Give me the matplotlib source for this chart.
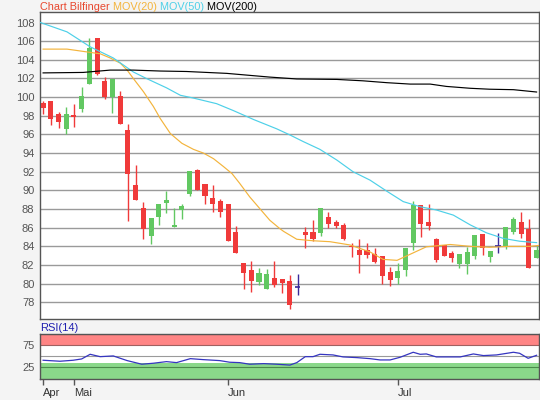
import numpy as np
import matplotlib
matplotlib.use("Agg")
import matplotlib.pyplot as plt

plt.rcParams['font.family'] = ['Liberation Sans', 'DejaVu Sans']

# daily candles, index 0 = first trading day shown
opens = [99.41, 99.59, 98.20, 96.55, 98.05, 98.70, 101.38, 106.32, 101.74, 100.06,
         100.13, 96.48, 90.58, 88.07, 85.14, 87.11, 88.61, 86.07, 87.93, 89.65,
         92.15, 90.68, 89.15, 88.86, 88.54, 85.50, 82.17, 81.45, 80.20, 79.48,
         80.59, 80.49, 80.27, 79.63, 85.57, 85.57, 85.46, 87.14, 86.60, 86.28,
         84.03, 83.60, 83.60, 83.13, 82.99, 81.20, 80.56, 81.45, 84.31, 88.43,
         86.60, 84.75, 84.14, 83.24, 82.06, 82.06, 82.99, 85.28, 82.88, 84.03,
         84.03, 85.50, 86.60, 85.85, 82.70]
highs = [99.55, 99.60, 98.41, 98.98, 99.23, 101.06, 106.32, 106.32, 102.20, 101.99,
         100.67, 97.09, 92.72, 88.75, 87.00, 88.54, 89.93, 88.07, 88.54, 92.04,
         92.26, 90.70, 90.58, 89.04, 88.54, 86.14, 82.17, 82.45, 81.63, 81.60,
         82.45, 80.49, 80.92, 80.99, 86.10, 86.82, 88.07, 87.64, 86.82, 86.46,
         84.31, 84.74, 84.31, 83.78, 82.99, 81.81, 82.24, 83.78, 88.86, 88.43,
         88.54, 84.85, 84.14, 83.45, 83.13, 83.96, 85.21, 85.28, 83.53, 85.46,
         86.03, 87.18, 87.71, 86.93, 84.03]
lows = [98.23, 97.05, 96.73, 96.05, 96.80, 98.38, 101.38, 102.35, 99.84, 98.34,
        97.16, 86.75, 89.00, 84.82, 84.28, 86.28, 87.53, 86.07, 86.96, 89.43,
        90.04, 88.57, 87.71, 87.11, 84.53, 83.24, 79.48, 79.13, 79.88, 79.48,
        79.66, 79.02, 77.23, 78.77, 83.85, 84.60, 85.10, 85.93, 85.93, 84.67,
        82.88, 81.09, 82.70, 82.17, 79.91, 79.77, 79.91, 80.85, 83.60, 85.03,
        85.75, 82.35, 82.96, 82.28, 81.70, 80.99, 82.60, 83.06, 82.28, 83.31,
        83.67, 85.32, 84.85, 81.63, 82.70]
closes = [98.88, 97.70, 97.37, 98.16, 97.91, 100.09, 105.25, 102.45, 100.06, 101.99,
          97.16, 91.79, 89.00, 85.89, 87.00, 88.54, 88.97, 86.28, 88.32, 92.04,
          90.04, 89.43, 88.50, 87.64, 84.53, 83.24, 81.17, 80.31, 81.09, 80.99,
          79.84, 80.09, 77.70, 79.63, 85.21, 84.75, 88.07, 86.39, 86.17, 84.75,
          83.89, 83.06, 83.06, 82.28, 80.84, 80.38, 81.34, 83.78, 88.43, 86.35,
          86.17, 82.53, 82.96, 82.78, 83.13, 83.35, 85.21, 83.85, 83.53, 84.03,
          86.03, 86.93, 85.32, 81.63, 83.60]

# moving averages (x = candle index)
mov20_x = [0, 3.1, 4.4, 6.1, 7.4, 8.7, 10, 10.9, 11.7, 13, 14.3, 15.2, 16.5, 18.0,
           19.5, 20.8, 22.1, 23.4, 24.5, 25.5, 26.8, 28.1, 29.4, 30.7, 31.2, 32.9,
           35.0, 37.2, 39.8, 42.4, 44.1, 45.9, 47.6, 49.7, 52.8, 55.4, 57.9, 60.5,
           63.1, 64.3]
mov20_y = [105.15, 105.15, 105.0, 104.8, 104.65, 104.2, 103.65, 102.9, 102.0, 100.6,
           99.0, 97.7, 96.1, 95.05, 94.4, 94.0, 93.4, 92.55, 91.8, 90.75, 89.3, 88.05,
           86.8, 85.9, 85.6, 84.76, 84.6, 84.5, 84.15, 83.4, 82.6, 82.5, 83.15, 83.95,
           84.2, 84.0, 83.9, 84.0, 84.0, 84.1]
mov50_x = [-0.35, 3.1, 6.1, 9.1, 11.7, 13.4, 16.0, 17.8, 19.5, 22.5, 24.7, 27.3,
           30.3, 32.0, 33.7, 35.9, 38.1, 40.2, 42.4, 44.6, 46.7, 48.9, 51.0, 53.2,
           55.4, 57.5, 59.7, 61.8, 64.0]
mov50_y = [108.0, 107.0, 105.4, 104.2, 102.7, 102.0, 101.0, 100.2, 99.9, 99.3, 98.55,
           97.6, 96.6, 95.95, 95.25, 94.4, 93.25, 92.0, 91.1, 89.9, 88.8, 88.25, 87.9,
           87.35, 86.3, 85.45, 84.85, 84.55, 84.4]
mov200_x = [0, 5.2, 8.7, 11.7, 15.2, 18.6, 23.8, 27.3, 29.4, 32.9, 38.1, 41.5, 44.6,
            47.6, 50.2, 52.3, 55.4, 57.9, 61.0, 64.0]
mov200_y = [102.6, 102.65, 102.9, 102.9, 102.8, 102.75, 102.55, 102.3, 102.15, 101.95,
            101.9, 101.75, 101.55, 101.4, 101.4, 101.15, 100.95, 100.85, 100.8, 100.55]

rsi_x = [0, 2.2, 3.9, 5.0, 6.1, 7.4, 9.1, 10.9, 12.8, 14.3, 16.0, 17.3, 19.1, 20.8,
         22.9, 24.2, 25.5, 26.8, 28.6, 30.3, 32.0, 32.9, 34.0, 35.0, 35.9, 37.6,
         38.9, 40.7, 42.4, 43.7, 45.0, 46.3, 48.0, 48.9, 49.7, 51.0, 54.1, 55.8,
         57.1, 58.8, 61.0, 61.8, 62.9, 64.0]
rsi_y = [39.7, 37.4, 39.7, 42.7, 53.5, 48.0, 49.7, 38.9, 30.5, 32.8, 36.5, 34.2, 43.4,
         41.1, 38.9, 35.1, 34.2, 30.5, 31.9, 30.5, 28.5, 34.2, 48.0, 48.0, 53.5, 52.0,
         47.4, 45.8, 43.4, 40.4, 40.4, 46.6, 58.2, 53.5, 54.3, 47.4, 47.4, 54.3, 50.5,
         52.0, 58.2, 55.8, 44.2, 51.2]

month_pos = [0, 4, 24, 46]
month_labels = ['Apr', 'Mai', 'Jun', 'Jul']

RED = '#f03a3a'
GREEN = '#62c862'
DOJI = '#3a2a9a'
C20 = '#f3b43c'
C50 = '#4dd0e8'
GRAY_TXT = '#555555'

fig = plt.figure(figsize=(5.4, 4.0), dpi=100, facecolor='#f4f4f4')
ax = fig.add_axes([0.0741, 0.2018, 0.9246, 0.7675])
ax.set_facecolor('white')

x = np.arange(len(opens))
o = np.array(opens)
h = np.array(highs)
l = np.array(lows)
c = np.array(closes)
col = [GREEN if cc > oo else (RED if cc < oo else DOJI) for oo, cc in zip(o, c)]
ax.vlines(x, l, h, colors=col, linewidth=1.0, zorder=3)
body_lo = np.minimum(o, c)
body_h = np.abs(c - o)
isbody = body_h > 0
ax.bar(x[isbody], body_h[isbody], bottom=body_lo[isbody], width=0.66,
       color=[cc for cc, b in zip(col, isbody) if b], linewidth=0, zorder=4)
for xi, oo, cc in zip(x, o, c):
    if oo == cc:
        ax.hlines(oo, xi - 0.33, xi + 0.33, colors=DOJI, linewidth=1.2, zorder=4)

ax.plot(mov20_x, mov20_y, color=C20, lw=0.85, zorder=5)
ax.plot(mov50_x, mov50_y, color=C50, lw=0.85, zorder=5)
ax.plot(mov200_x, mov200_y, color='black', lw=0.85, zorder=5)

ax.set_xlim(-0.4, 64.35)
ax.set_ylim(76.18, 109.1)
ax.set_yticks(np.arange(78, 109, 2))
ax.yaxis.grid(True, color='#9a9a9a', lw=1.0)
ax.set_axisbelow(True)
ax.tick_params(axis='y', length=0, pad=4, labelsize=8, labelcolor=GRAY_TXT)
ax.tick_params(axis='x', length=0, labelbottom=False)
for s in ax.spines.values():
    s.set_color('#555555')
    s.set_linewidth(1.0)

# title, coloured pieces in a row
t = fig.text(0.0741, 0.982, 'Chart Bilfinger', color='#e8472e', fontsize=7.8, va='center')
for txt, cl in [(' MOV(20)', C20), (' MOV(50)', C50), (' MOV(200)', 'black')]:
    t = ax.annotate(txt, xy=(1, 0), xycoords=t, va='bottom', ha='left',
                    color=cl, fontsize=7.8, annotation_clip=False)

# RSI panel
ax2 = fig.add_axes([0.0741, 0.0533, 0.9246, 0.1117])
ax2.set_facecolor('white')
ax2.set_xlim(-0.4, 64.35)
ax2.set_ylim(-3, 100.5)
ax2.axhspan(75, 100.5, color='#ff8585', lw=0)
ax2.axhspan(-3, 32.5, color='#8ad88a', lw=0)
ax2.axhline(100, color='#c05050', lw=0.8)
ax2.axhline(75, color='#a06060', lw=0.8)
ax2.axhline(50, color='#9a9a9a', lw=0.8)
ax2.axhline(25, color='#4a8a4a', lw=0.8)
ax2.plot(rsi_x, rsi_y, color='#3535c0', lw=0.9, zorder=5)
ax2.set_yticks([25, 75])
ax2.tick_params(axis='y', length=0, pad=4, labelsize=8, labelcolor=GRAY_TXT)
ax2.set_xticks(month_pos)
ax2.set_xticklabels(month_labels, ha='left')
ax2.tick_params(axis='x', length=4, width=1, color='#555555', pad=3,
                labelsize=8, labelcolor='#333333')
for s in ax2.spines.values():
    s.set_color('#555555')
    s.set_linewidth(1.0)
fig.text(0.0741, 0.168, 'RSI(14)', color='#2020b0', fontsize=8, va="bottom")

fig.savefig('out.png', dpi=100, facecolor=fig.get_facecolor())
